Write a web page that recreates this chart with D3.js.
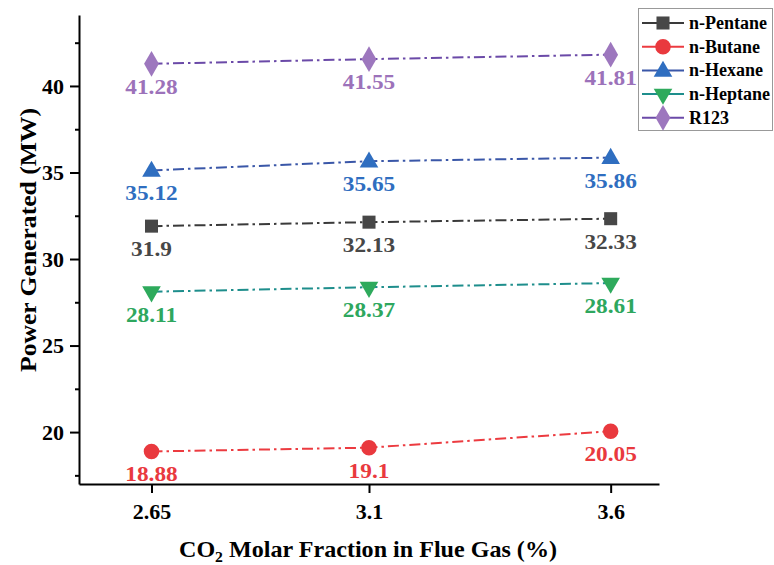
<!DOCTYPE html>
<html>
<head>
<meta charset="utf-8">
<script src="https://cdn.jsdelivr.net/npm/d3@7"></script>
<style>
  body { margin: 0; background: #fff; }
  svg { display: block; font-family: "Liberation Serif", "Times New Roman", serif; font-weight: bold; }
</style>
</head>
<body>
<div id="chart"></div>
<script>
// x categories (CO2 molar fraction, %)
const xValues = [2.65, 3.1, 3.6];
const xTickLabels = ['2.65', '3.1', '3.6'];

// series values (MW)
const pentane = [31.9, 32.13, 32.33];
const butane = [18.88, 19.1, 20.05];
const hexane = [35.12, 35.65, 35.86];
const heptane = [28.11, 28.37, 28.61];
const r123 = [41.28, 41.55, 41.81];

const seriesNames = ['n-Pentane', 'n-Butane', 'n-Hexane', 'n-Heptane', 'R123'];
const yMajor = [20, 25, 30, 35, 40];
const yMinor = [17.5, 22.5, 27.5, 32.5, 37.5, 42.5];

const series = [
  { name: seriesNames[0], values: pentane, line: '#3a3a3a', mark: '#474747', text: '#474747', shape: d3.symbolSquare, size: 170 },
  { name: seriesNames[1], values: butane, line: '#ec3b40', mark: '#e9393e', text: '#e9393e', shape: d3.symbolCircle, size: 190 },
  { name: seriesNames[2], values: hexane, line: '#3a57a8', mark: '#2f6ec0', text: '#2f6ec0', shape: d3.symbolTriangle, size: 150, dy: 1 },
  { name: seriesNames[3], values: heptane, line: '#1e8e8c', mark: '#2eaa5c', text: '#2ea75e', shape: d3.symbolTriangle, size: 150, flip: true },
  { name: seriesNames[4], values: r123, line: '#6b4aa8', mark: '#9d77be', text: '#9c72ba', shape: d3.symbolDiamond, size: 190 }
];

const width = 774, height = 565;
const svg = d3.select('#chart').append('svg')
  .attr('width', width).attr('height', height);

const x = d3.scaleLinear().domain([2.5, 3.7]).range([79, 659]);
const y = d3.scaleLinear().domain([17, 44.1]).range([484, 15]);

// Y axis: major + minor ticks.
svg.append('g').attr('transform', 'translate(79,0)')
  .call(d3.axisLeft(y).tickValues(yMajor).tickSize(9).tickPadding(6).tickSizeOuter(0));
svg.append('g').attr('transform', 'translate(79,0)')
  .call(d3.axisLeft(y).tickValues(yMinor).tickSize(4).tickFormat('').tickSizeOuter(0))
  .select('.domain').remove();

// X axis.
svg.append('g').attr('transform', 'translate(0,484)')
  .call(d3.axisBottom(x).tickValues(xValues).tickFormat((d, i) => xTickLabels[i])
    .tickSize(9).tickPadding(10).tickSizeOuter(0));

svg.selectAll('.domain, .tick line').attr('stroke', '#000').attr('stroke-width', 2);
svg.selectAll('.tick text')
  .attr('fill', '#000')
  .style('font-family', '"Liberation Serif", "Times New Roman", serif')
  .style('font-weight', 'bold')
  .style('font-size', '22px');

// Axis titles.
const xt = svg.append('text')
  .attr('x', 368).attr('y', 557)
  .attr('text-anchor', 'middle')
  .attr('textLength', 378)
  .attr('lengthAdjust', 'spacingAndGlyphs')
  .style('font-size', '23px');
xt.append('tspan').text('CO');
xt.append('tspan').text('2').attr('dy', 5).style('font-size', '15px');
xt.append('tspan').text(' Molar Fraction in Flue Gas (%)').attr('dy', -5);

svg.append('text')
  .attr('transform', 'translate(36,240) rotate(-90)')
  .attr('text-anchor', 'middle')
  .attr('textLength', 264)
  .attr('lengthAdjust', 'spacingAndGlyphs')
  .style('font-size', '23px')
  .text('Power Generated (MW)');

const line = d3.line()
  .x((d, i) => x(xValues[i]))
  .y(d => y(d));

const dash = '11,4,2.5,4';

series.forEach(s => {
  const g = svg.append('g');
  g.append('path')
    .attr('d', line(s.values))
    .attr('fill', 'none')
    .attr('stroke', s.line)
    .attr('stroke-width', 2)
    .attr('stroke-dasharray', dash);

  g.selectAll('path.mark').data(s.values).join('path')
    .attr('class', 'mark')
    .attr('d', d3.symbol().type(s.shape).size(s.size))
    .attr('transform', (d, i) => `translate(${x(xValues[i])},${y(d) + (s.dy || 0)})${s.flip ? ' rotate(180)' : ''}`)
    .attr('fill', s.mark);

  g.selectAll('text').data(s.values).join('text')
    .attr('transform', (d, i) => `translate(${x(xValues[i])},${y(d) + 30}) scale(1.06,1)`)
    .attr('text-anchor', 'middle')
    .attr('fill', s.text)
    .style('font-size', '22px')
    .text(d => d);
});

// Legend.
const legend = svg.append('g');
legend.append('rect')
  .attr('x', 638.5).attr('y', 8.5).attr('width', 134).attr('height', 122)
  .attr('fill', '#fff').attr('stroke', '#999').attr('stroke-width', 1);

series.forEach((s, i) => {
  const ly = 23 + i * 23.7;
  legend.append('line')
    .attr('x1', 642).attr('x2', 684).attr('y1', ly).attr('y2', ly)
    .attr('stroke', s.line).attr('stroke-width', 2);
  legend.append('path')
    .attr('d', d3.symbol().type(s.shape).size(s.size))
    .attr('transform', `translate(663,${ly + (s.dy || 0)})${s.flip ? ' rotate(180)' : ''}`)
    .attr('fill', s.mark);
  legend.append('text')
    .attr('x', 689).attr('y', ly + 6)
    .attr('fill', '#000')
    .style('font-size', '18px')
    .text(s.name);
});
</script>
</body>
</html>
